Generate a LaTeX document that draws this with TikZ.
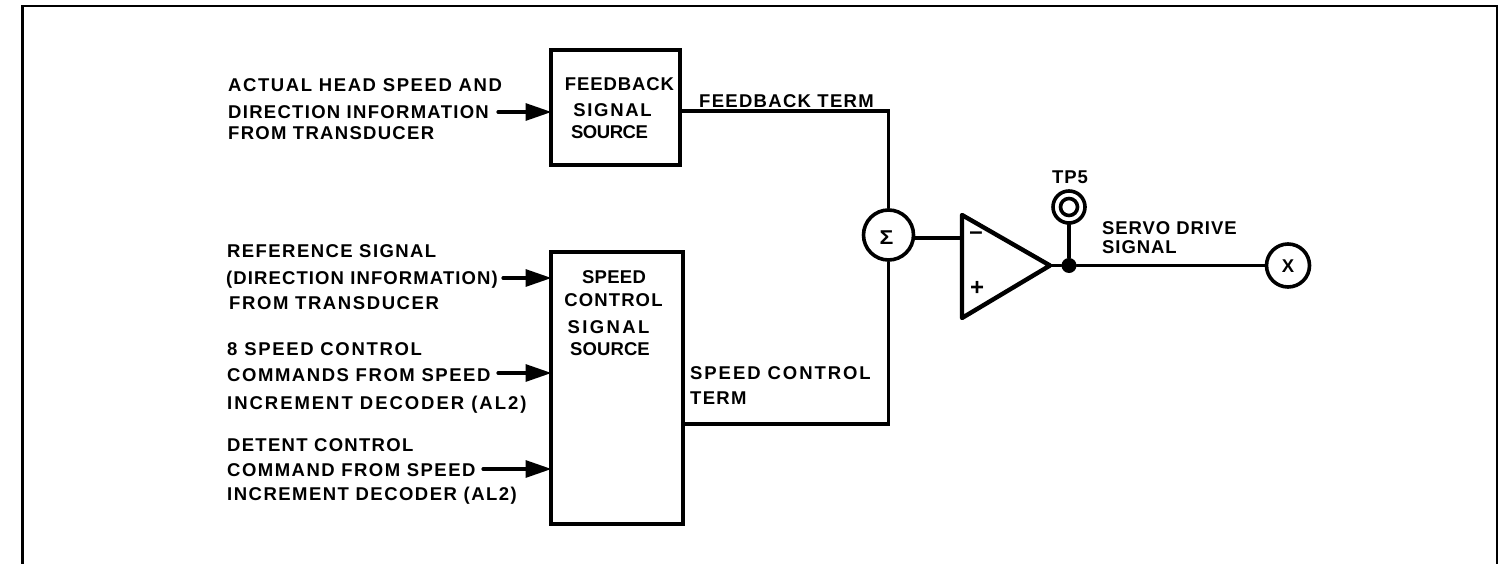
\documentclass[tikz,border=0pt]{standalone}
\usepackage{fontspec}
\setmainfont{Liberation Sans Bold}
\newcommand{\ls}[2]{{\addfontfeature{LetterSpace=#1}#2}}
\usetikzlibrary{arrows.meta}
\tikzset{
 x=1pt,y=-1pt,
 wire/.style={line width=3.2pt,line cap=round,line join=miter},
 feed/.style={wire,-{Triangle[length=26pt,width=17pt]},shorten >=-1pt},
 blockbox/.style={draw,line width=4pt,inner sep=0pt,outer sep=0pt,anchor=north west},
 lab/.style={font=\fontsize{18.5}{22}\selectfont,anchor=base west,inner sep=0pt},
 ctr/.style={font=\fontsize{18.5}{22}\selectfont,anchor=base,inner sep=0pt},
 ring/.style={draw,circle,line width=3.6pt,fill=white,inner sep=0pt},
}
\begin{document}
\begin{tikzpicture}
\useasboundingbox (0,0) rectangle (1503,564);
\coordinate (fa) at (22.5,564); \coordinate (fb) at (22.5,6); \coordinate (fc) at (1497,6); \coordinate (fd) at (1497,564);
\draw[line width=2.4pt] (fa)--(fb)--(fc)--(fd);
% blocks
\node[blockbox,minimum width=129.5pt,minimum height=115pt] (fbk) at (550.5,50.5) {};
\node[ctr] (f1) at (619.5,90.6) {\ls{5}{FEEDBACK}};
\node[ctr] (f2) at (612.5,116.6) {\ls{9}{SIGNAL}};
\node[ctr] (f3) at (609.5,138.6) {\ls{-2.5}{SOURCE}};
\node[blockbox,minimum width=132.5pt,minimum height=271.5pt] (spd) at (550.5,252) {};
\node[ctr] (s1) at (614,283.6) {\ls{1.5}{SPEED}};
\node[ctr] (s2) at (613.5,306.6) {\ls{6}{CONTROL}};
\node[ctr] (s3) at (608.5,333.6) {\ls{13}{SIGNAL}};
\node[ctr] (s4) at (610,355.6) {\ls{0.5}{SOURCE}};
% inputs
\node[lab] (l1a) at (228,91.6) {\ls{8.6}{ACTUAL HEAD SPEED AND}};
\node[lab] (l1b) at (228,118.6) {\ls{7}{DIRECTION INFORMATION}};
\node[lab] (l1c) at (228,139.6) {\ls{7}{FROM TRANSDUCER}};
\node[lab] (l2a) at (227,257.6) {\ls{7.7}{REFERENCE SIGNAL}};
\node[lab] (l2b) at (226,284.6) {\ls{6}{(DIRECTION INFORMATION)}};
\node[lab] (l2c) at (229,309.6) {\ls{8.6}{FROM TRANSDUCER}};
\node[lab] (l3a) at (227,355.6) {\ls{9}{8 SPEED CONTROL}};
\node[lab] (l3b) at (227,381.6) {\ls{8.4}{COMMANDS FROM SPEED}};
\node[lab] (l3c) at (227,409.6) {\ls{10.6}{INCREMENT DECODER (AL2)}};
\node[lab] (l4a) at (227,451.6) {\ls{7}{DETENT CONTROL}};
\node[lab] (l4b) at (227,476.6) {\ls{8}{COMMAND FROM SPEED}};
\node[lab] (l4c) at (227,500.6) {\ls{8}{INCREMENT DECODER (AL2)}};
\coordinate (a1) at (498,112); \coordinate (a2) at (503,278); \coordinate (a3) at (498,373); \coordinate (a4) at (483,469);
\draw[feed] (a1) -- (fbk.west |- a1);
\draw[feed] (a2) -- (spd.west |- a2);
\draw[feed] (a3) -- (spd.west |- a3);
\draw[feed] (a4) -- (spd.west |- a4);
% summing
\node[ring,minimum size=50pt] (sum) at (888.5,235) {};
\node[font=\fontsize{20}{20}\selectfont,inner sep=0pt,xscale=1.15] (sumt) at (886.5,238) {Σ};
\coordinate (t1) at (888.5,111); \coordinate (t2) at (888.5,424);
\draw[wire] (fbk.east |- t1) -- (t1) -- (sum.north);
\draw[wire] (spd.east |- t2) -- (t2) -- (sum.south);
\node[lab] (ft) at (699,107.5) {\ls{7}{FEEDBACK TERM}};
\node[lab] (st1) at (690,379.6) {\ls{10.4}{SPEED CONTROL}};
\node[lab] (st2) at (690,404.6) {\ls{7}{TERM}};
% amplifier
\coordinate (ta) at (962,215); \coordinate (tb) at (962,318); \coordinate (tc) at (1050,265.5);
\coordinate (tin) at (962,238);
\draw[line width=4.4pt,line join=round] (ta)--(tc)--(tb)--cycle;
\draw[wire] (sum.east |- tin) -- (tin);
\node[font=\fontsize{24}{24}\selectfont,inner sep=0pt] (minus) at (976,236) {–};
\node[font=\fontsize{24}{24}\selectfont,inner sep=0pt] (plus) at (977,288) {+};
% output
\node[circle,fill=black,minimum size=15pt,inner sep=0pt] (dot) at (1069,265.5) {};
\node[ring,minimum size=32pt] (tp) at (1069,207) {};
\node[ring,minimum size=17pt] (tpi) at (tp.center) {};
\node[ctr] (tpl) at (1070,183.6) {\ls{5}{TP5}};
\node[ring,minimum size=43pt] (x) at (1288,265.5) {};
\node[ctr] (xl) at (1288,272.5) {X};
\draw[wire] (tc) -- (dot);
\draw[wire] (dot) -- (tp.south);
\draw[wire] (dot) -- (x.west);
\node[lab] (sd1) at (1102,234.6) {\ls{5}{SERVO DRIVE}};
\node[lab] (sd2) at (1102,253.6) {\ls{5}{SIGNAL}};
\end{tikzpicture}
\end{document}
